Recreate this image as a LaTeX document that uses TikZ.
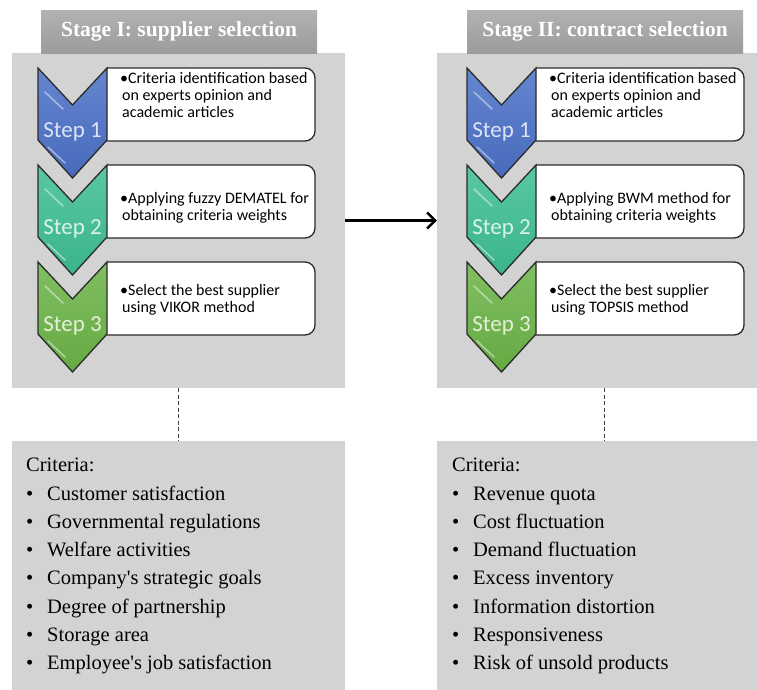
\documentclass[tikz,border=0pt]{standalone}
\usepackage{fontspec}
\setmainfont{Liberation Serif}
\newfontfamily\stepfont{Carlito}
\usepackage{xcolor}
\definecolor{panelGray}{HTML}{D3D3D3}
\definecolor{titleGray}{HTML}{A4A4A4}
\definecolor{stepBlue}{HTML}{4A70C6}
\definecolor{stepTeal}{HTML}{3DBE90}
\definecolor{stepGreen}{HTML}{6BB346}
\definecolor{edgeDark}{HTML}{2B2B2B}
\usetikzlibrary{arrows.meta, positioning, calc}

\newcommand{\critem}[1]{\makebox[21pt][l]{\textbullet}#1}

\begin{document}
\begin{tikzpicture}[
    x=1pt, y=-1pt,
    panel/.style={
        rectangle,
        fill=panelGray,
        inner sep=0pt
    },
    stagetitle/.style={
        rectangle,
        top color=titleGray!85!white,
        bottom color=titleGray!95!black,
        minimum width=276pt,
        minimum height=43pt,
        inner sep=0pt,
        text=white,
        font=\fontsize{21.5}{24}\selectfont\bfseries
    },
    chevron/.style={draw=edgeDark, line width=1.3pt, line join=miter},
    gloss/.style={white, opacity=0.45, line width=1.6pt, line cap=round},
    steplabel/.style={font=\stepfont\fontsize{23}{23}\selectfont, text=white, text opacity=0.8},
    stepbox/.style={fill=white, draw=edgeDark, line width=1.3pt, rounded corners=10pt},
    steptext/.style={
        font=\stepfont\fontsize{16}{17}\selectfont,
        align=left,
        anchor=west,
        inner sep=0pt
    },
    critlist/.style={
        font=\fontsize{20.5}{28.3}\selectfont,
        align=left,
        anchor=north west,
        inner sep=0pt
    }
]

\clip (0,0) rectangle (757,689);
\fill[white] (0,0) rectangle (757,689);

% stage panels
\node[panel, minimum width=333pt, minimum height=335pt] (stageA) at (178.5,220.5) {};
\node[panel, minimum width=334pt, minimum height=335pt] (stageB) at (604,220.5) {};
\node[stagetitle] (titleA) at (179,31.5) {Stage I: supplier selection};
\node[stagetitle] (titleB) at (605,31.5) {Stage II: contract selection};

% criteria panels
\node[panel, minimum width=333pt, minimum height=259pt] (critA) at (178.5,570.5) {};
\node[panel, minimum width=334pt, minimum height=259pt] (critB) at (604,570.5) {};

% steps
\foreach \dx in {0,429} {
  \foreach \y/\c/\n in {68/stepBlue/1, 165/stepTeal/2, 262/stepGreen/3} {
    \pgfmathsetmacro{\xo}{38+\dx}
    \filldraw[stepbox] ({\xo+69},\y) -| ({\xo+277},{\y+73}) -- ({\xo+69},{\y+73});
    \draw[chevron, top color=\c!85!white, bottom color=\c!95!black]
      (\xo,\y) -- ({\xo+34.5},{\y+37}) -- ({\xo+69},\y) -- ({\xo+69},{\y+72})
      -- ({\xo+34.5},{\y+110}) -- (\xo,{\y+72}) -- cycle;
    \draw[gloss] ({\xo+7},{\y+24}) -- ({\xo+25},{\y+41});
    \draw[gloss] ({\xo+10},{\y+79}) -- ({\xo+27},{\y+95});
    \node[steplabel] (lab\dx-\n) at ({\xo+34.5},{\y+64}) {Step \n};
  }
}

\node[steptext] (textA1) at (120,95) {\textbullet Criteria identification based\\\hspace*{2pt}on experts opinion and\\\hspace*{2pt}academic articles};
\node[steptext] (textA2) at (120,208) {\textbullet Applying fuzzy DEMATEL for\\\hspace*{2pt}obtaining criteria weights};
\node[steptext] (textA3) at (120,300) {\textbullet Select the best supplier\\\hspace*{2pt}using VIKOR method};
\node[steptext] (textB1) at (549,95) {\textbullet Criteria identification based\\\hspace*{2pt}on experts opinion and\\\hspace*{2pt}academic articles};
\node[steptext] (textB2) at (549,208) {\textbullet Applying BWM method for\\\hspace*{2pt}obtaining criteria weights};
\node[steptext] (textB3) at (549,300) {\textbullet Select the best supplier\\\hspace*{2pt}using TOPSIS method};

% criteria lists
\node[critlist] (listA) at (26,458) {Criteria:\\
  \critem{Customer satisfaction}\\
  \critem{Governmental regulations}\\
  \critem{Welfare activities}\\
  \critem{Company\textquotesingle s strategic goals}\\
  \critem{Degree of partnership}\\
  \critem{Storage area}\\
  \critem{Employee\textquotesingle s job satisfaction}};
\node[critlist] (listB) at (452,458) {Criteria:\\
  \critem{Revenue quota}\\
  \critem{Cost fluctuation}\\
  \critem{Demand fluctuation}\\
  \critem{Excess inventory}\\
  \critem{Information distortion}\\
  \critem{Responsiveness}\\
  \critem{Risk of unsold products}};

% connectors
\draw[-{Straight Barb[length=8pt, width=16pt]}, line width=2.5pt] (stageA.east) -- (stageB.west);
\draw[dashed, dash pattern=on 4pt off 2.5pt, line width=1pt, black!75] (stageA.south) -- (critA.north);
\draw[dashed, dash pattern=on 4pt off 2.5pt, line width=1pt, black!75] (stageB.south) -- (critB.north);
\end{tikzpicture}
\end{document}
